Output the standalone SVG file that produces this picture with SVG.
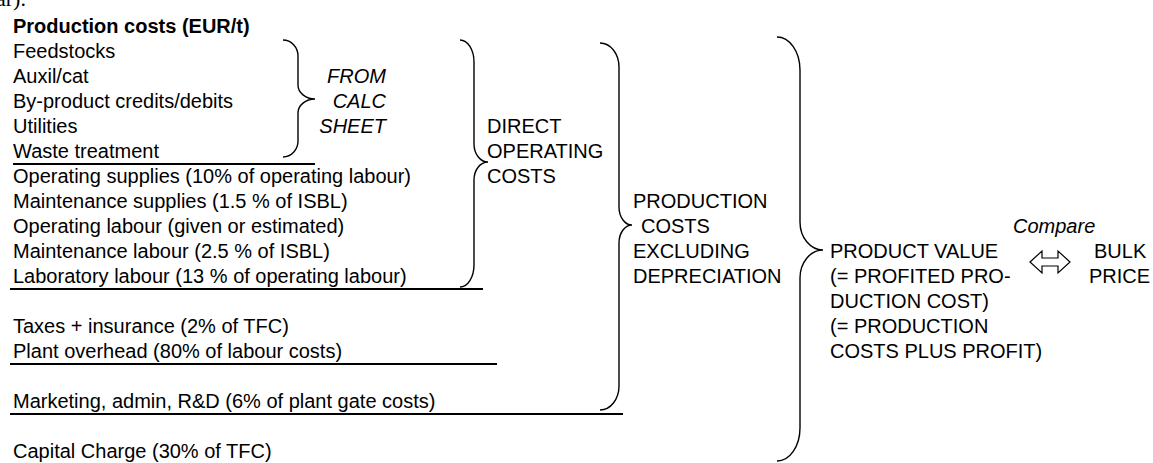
<svg xmlns="http://www.w3.org/2000/svg" width="1153" height="463" viewBox="0 0 1153 463">
<style>
text{font-family:"Liberation Sans",Arial,sans-serif;font-size:20px;fill:#000}
.b{font-weight:bold}
.i{font-style:italic}
.serif{font-family:"Liberation Serif","Times New Roman",serif;font-size:22px}
.brace{fill:none;stroke:#000;stroke-width:1.4}
.rule{stroke:#000;stroke-width:2.2}
.arrow{fill:#fff;stroke:#000;stroke-width:1.2;stroke-linejoin:miter}
</style>
<rect width="1153" height="463" fill="#fff"/>
<text class="serif" x="-4" y="6">ar).</text>

<g id="items">
<text class="b" x="13" y="33">Production costs (EUR/t)</text>
<text x="13" y="58">Feedstocks</text>
<text x="13" y="83">Auxil/cat</text>
<text x="13" y="108">By-product credits/debits</text>
<text x="13" y="133">Utilities</text>
<text x="13" y="158">Waste treatment</text>
<text x="13" y="183">Operating supplies (10% of operating labour)</text>
<text x="13" y="208">Maintenance supplies (1.5 % of ISBL)</text>
<text x="13" y="233">Operating labour (given or estimated)</text>
<text x="13" y="258">Maintenance labour (2.5 % of ISBL)</text>
<text x="13" y="283">Laboratory labour (13 % of operating labour)</text>
<text x="13" y="333">Taxes + insurance (2% of TFC)</text>
<text x="13" y="358">Plant overhead (80% of labour costs)</text>
<text x="13" y="408">Marketing, admin, R&amp;D (6% of plant gate costs)</text>
<text x="13" y="458">Capital Charge (30% of TFC)</text>
</g>

<g id="rules">
<line class="rule" x1="13" y1="164" x2="315" y2="164"/>
<line class="rule" x1="10" y1="289" x2="483" y2="289"/>
<line class="rule" x1="10" y1="364" x2="497" y2="364"/>
<line class="rule" x1="10" y1="414" x2="623" y2="414"/>
</g>

<g id="connectors">
<path class="brace" d="M283,40 A15,16 0 0 1 298,56 L298,85 A17,14 0 0 0 315,99 A17,14 0 0 0 298,113 L298,141 A15,16 0 0 1 283,157"/>
<path class="brace" d="M460,40 A14,22 0 0 1 474,62 L474,144 A14,18 0 0 0 488,162 A14,18 0 0 0 474,180 L474,265 A14,22 0 0 1 460,287"/>
<path class="brace" d="M600,43 A19,24 0 0 1 619,67 L619,207 A13,18 0 0 0 632,225 A13,18 0 0 0 619,243 L619,386 A19,24 0 0 1 600,410"/>
<path class="brace" d="M777,37 A23,33 0 0 1 800,70 L800,222 A23,28 0 0 0 823,250 A23,28 0 0 0 800,278 L800,428 A23,33 0 0 1 777,461"/>
<polygon class="arrow" points="1030,262 1042,251 1042,258 1058,258 1058,251 1070,262 1058,273 1058,266 1042,266 1042,273"/>
</g>

<g id="from-calc-sheet">
<text class="i" x="386" y="83" text-anchor="end">FROM</text>
<text class="i" x="386" y="108" text-anchor="end">CALC</text>
<text class="i" x="386" y="133" text-anchor="end">SHEET</text>
</g>

<g id="direct-operating-costs">
<text x="487" y="133">DIRECT</text>
<text x="487" y="158">OPERATING</text>
<text x="487" y="183">COSTS</text>
</g>

<g id="production-costs-excl-depreciation">
<text x="633" y="208">PRODUCTION</text>
<text x="641" y="233">COSTS</text>
<text x="633" y="258">EXCLUDING</text>
<text x="633" y="283">DEPRECIATION</text>
</g>

<g id="product-value">
<text x="830" y="258">PRODUCT VALUE</text>
<text x="830" y="283">(= PROFITED PRO-</text>
<text x="830" y="308">DUCTION COST)</text>
<text x="830" y="333">(= PRODUCTION</text>
<text x="830" y="358">COSTS PLUS PROFIT)</text>
</g>

<g id="compare">
<text class="i" x="1013" y="233">Compare</text>
</g>

<g id="bulk-price">
<text x="1094" y="258">BULK</text>
<text x="1089" y="283">PRICE</text>
</g>
</svg>
